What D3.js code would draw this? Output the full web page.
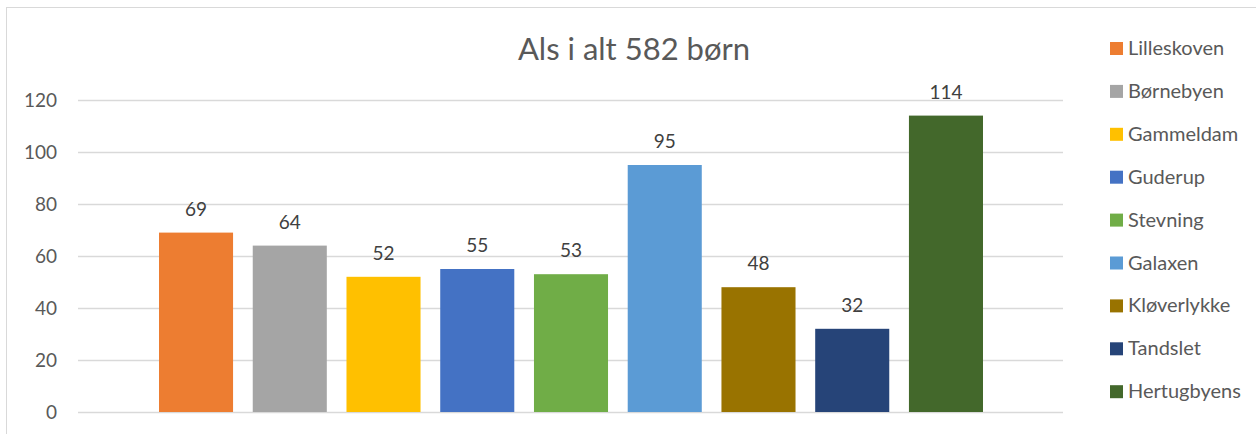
<!DOCTYPE html>
<html>
<head>
<meta charset="utf-8">
<script src="https://cdn.jsdelivr.net/npm/d3@7"></script>
<style>
  body { margin: 0; background: #fff; }
  svg { display: block; font-family: Lato, "Open Sans", sans-serif; }
</style>
</head>
<body>
<div id="chart"></div>
<script>
// Data
const schools = ["Lilleskoven", "Børnebyen", "Gammeldam", "Guderup", "Stevning",
                 "Galaxen", "Kløverlykke", "Tandslet", "Hertugbyens"];
const counts = [69, 64, 52, 55, 53, 95, 48, 32, 114];
const colors = ["#ED7D31", "#A5A5A5", "#FFC000", "#4472C4", "#70AD47",
                "#5B9BD5", "#997300", "#264478", "#43682B"];
const yTicks = [0, 20, 40, 60, 80, 100, 120];
const title = "Als i alt 582 børn";

const data = schools.map((s, i) => ({ name: s, value: counts[i], color: colors[i] }));

const width = 1256, height = 434;
const plot = { left: 78, right: 1063, top: 100, bottom: 412 };

const svg = d3.select("#chart")
  .append("svg")
  .attr("width", width)
  .attr("height", height);

// chart area border
svg.append("rect")
  .attr("x", 6.5).attr("y", 7.5)
  .attr("width", width + 10).attr("height", height + 10)
  .attr("fill", "none")
  .attr("stroke", "#d9d9d9");

const x = d3.scaleBand()
  .domain(schools)
  .range([159, 983])
  .paddingInner(0.21)
  .paddingOuter(0);

const y = d3.scaleLinear()
  .domain([0, 120])
  .range([plot.bottom, plot.top]);

// Gridlines + y labels
const yAxis = svg.append("g")
  .attr("transform", `translate(${plot.left},0)`)
  .call(d3.axisLeft(y).tickValues(yTicks).tickSize(-(plot.right - plot.left)).tickPadding(21));

yAxis.select(".domain").remove();
yAxis.selectAll(".tick line").style("stroke", "#d9d9d9").style("stroke-width", 1.3);
yAxis.selectAll(".tick text")
  .style("fill", "#595959")
  .style("font-size", "19px")
  .style("font-family", "Lato, 'Open Sans', sans-serif");

// Bars
svg.selectAll(".bar")
  .data(data)
  .enter()
  .append("rect")
  .attr("class", "bar")
  .attr("x", d => x(d.name))
  .attr("y", d => y(d.value))
  .attr("width", x.bandwidth())
  .attr("height", d => y(0) - y(d.value))
  .attr("fill", d => d.color);

// Value labels
svg.selectAll(".val")
  .data(data)
  .enter()
  .append("text")
  .attr("class", "val")
  .attr("x", d => x(d.name) + x.bandwidth() / 2)
  .attr("y", d => y(d.value) - 17)
  .attr("text-anchor", "middle")
  .style("font-size", "19px")
  .style("fill", "#404040")
  .text(d => d.value);

// Title
svg.append("text")
  .attr("x", 634)
  .attr("y", 60)
  .attr("text-anchor", "middle")
  .style("font-size", "31px")
  .style("fill", "#595959")
  .text(title);

// Legend
const legend = svg.selectAll(".legend")
  .data(data)
  .enter()
  .append("g")
  .attr("class", "legend")
  .attr("transform", (d, i) => `translate(1110, ${48 + i * 42.9})`);

legend.append("rect")
  .attr("x", 0).attr("y", -6)
  .attr("width", 13).attr("height", 13)
  .attr("fill", d => d.color);

legend.append("text")
  .attr("x", 18)
  .attr("y", 0)
  .attr("dy", "0.35em")
  .style("font-size", "20px")
  .style("fill", "#595959")
  .text(d => d.name);
</script>
</body>
</html>
